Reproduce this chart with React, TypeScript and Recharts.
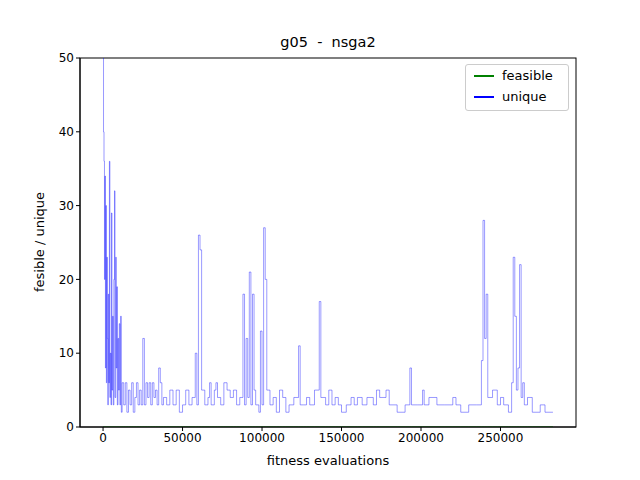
import { LineChart, Line, XAxis, YAxis } from 'recharts'

// fitness evaluations (thousands) and unique count
const evals = [0,0.3,0.6,0.9,1.2,1.5,1.8,2.1,2.4,2.7,3,3.3,3.6,4,4.3,4.6,5,5.3,5.6,6,6.4,6.8,7.2,7.5,8,8.3,8.7,9,9.4,9.8,10.2,10.6,11,11.5,12,13,14,15,16,17,18,19,20,21,22,23,24,25,26,27,28,29,30,31,32,33,34,35,36,37,38,40,42,44,46,48,50,52,54,56,58,59,60,61,62,64,66,67,68,70,71,72,74,76,78,80,82,84,86,88,89,90,91,92,93,94,95,96,98,99,100,101,102,103,105,107,109,111,113,115,117,120,123,124,126,128,130,133,136,137,140,142,144,146,148,150,153,156,158,160,163,166,170,172,174,178,180,185,190,193,194,198,201,202,205,210,215,220,222,225,230,235,238,239,240,241,242,245,248,250,252,255,257,258,259,260,261,262,263,264,265,267,270,275,278,283]
const unique = [50,40,36,20,34,8,30,6,23,12,3,18,6,36,4,10,3,29,5,15,3,20,32,4,23,8,19,3,12,5,14,3,15,2,6,3,6,2,5,3,6,2,4,6,3,5,3,12,3,6,4,6,3,6,4,5,3,8,6,3,4,3,5,3,5,2,3,5,3,4,10,3,26,24,5,3,4,6,3,5,6,4,3,6,5,4,5,3,4,18,3,12,4,21,3,18,5,3,2,13,3,27,20,5,3,4,2,5,4,2,3,4,11,3,3,4,3,5,17,4,3,5,3,4,3,2,3,4,3,4,3,4,3,5,4,5,3,2,3,8,3,3,5,3,4,3,3,4,3,2,3,3,9,28,12,18,4,5,3,4,3,2,6,23,15,5,8,22,4,6,3,4,2,3,2,2]
const feasible = unique.map(() => 0)

const data = evals.map((e, i) => ({ x: e * 1000, unique: unique[i], feasible: feasible[i] }))
const xTicks = [0, 50000, 100000, 150000, 200000, 250000]
const yTicks = [0, 10, 20, 30, 40, 50]

const font = 'DejaVu Sans, sans-serif'

export default function App() {
  return (
    <div style={{ position: 'absolute', left: 0, top: 0, width: 640, height: 480, background: '#fff', fontFamily: font }}>
      <div style={{ position: 'absolute', top: 34, left: 80, width: 496, textAlign: 'center', fontSize: 14.5, whiteSpace: 'pre' }}>g05  -  nsga2</div>
      <LineChart width={640} height={480} data={data} margin={{ top: 58, right: 64, bottom: 23, left: 40 }}>
        <XAxis dataKey="x" type="number" domain={[-14500, 297500]} ticks={xTicks} allowDataOverflow height={30}
          tick={{ fill: '#000', fontSize: 12, fontFamily: font }} stroke="#000" tickSize={4} />
        <YAxis type="number" domain={[0, 50]} ticks={yTicks} width={40} allowDataOverflow
          tick={{ fill: '#000', fontSize: 12, fontFamily: font }} stroke="#000" tickSize={4} />
        <Line dataKey="feasible" type="stepAfter" stroke="green" strokeWidth={1} dot={false} isAnimationActive={false} />
        <Line dataKey="unique" type="stepAfter" stroke="blue" strokeWidth={0.5} strokeOpacity={0.8} dot={false} isAnimationActive={false} />
        <rect x={80} y={58} width={496} height={369} fill="none" stroke="#000" strokeWidth={1} />
      </LineChart>
      <div style={{ position: 'absolute', top: 453, left: 80, width: 496, textAlign: 'center', fontSize: 13 }}>fitness evaluations</div>
      <div style={{ position: 'absolute', left: 39, top: 242, fontSize: 13, whiteSpace: 'pre', transform: 'translate(-50%, -50%) rotate(-90deg)' }}>fesible / unique</div>
      <div style={{ position: 'absolute', left: 465, top: 64, width: 102, height: 45, border: '1px solid #ccc', borderRadius: 3, background: '#fff', fontSize: 13 }}>
        <div style={{ position: 'absolute', left: 8, top: 3, display: 'flex', alignItems: 'center' }}>
          <span style={{ width: 20, height: 2, background: 'green', marginRight: 8 }} />feasible
        </div>
        <div style={{ position: 'absolute', left: 8, top: 24, display: 'flex', alignItems: 'center' }}>
          <span style={{ width: 20, height: 2, background: 'blue', marginRight: 8 }} />unique
        </div>
      </div>
    </div>
  )
}
